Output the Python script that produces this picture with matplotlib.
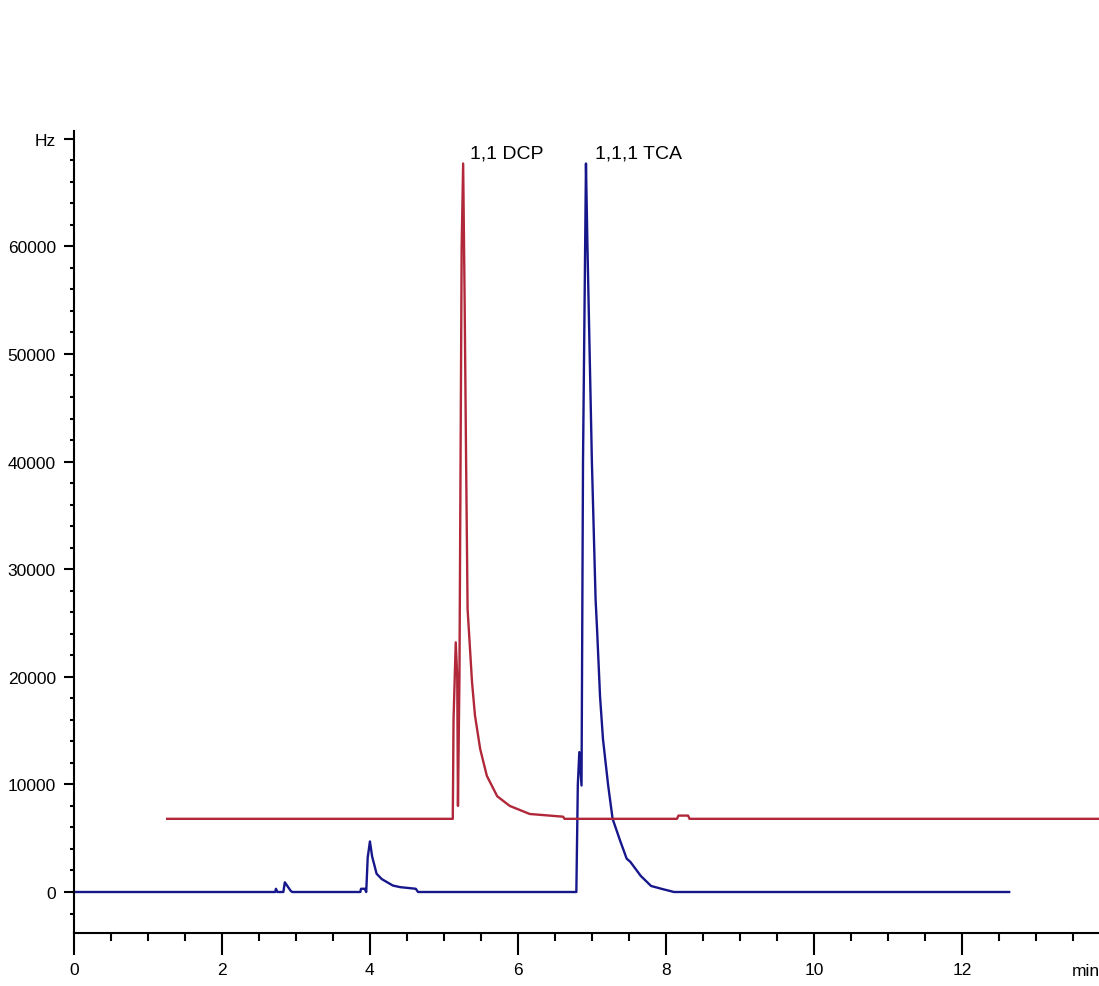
import matplotlib
matplotlib.use('Agg')
import matplotlib.pyplot as plt
from matplotlib.ticker import MultipleLocator, FixedLocator

plt.rcParams['font.family'] = ['Liberation Sans', 'DejaVu Sans']

# retention time (min) and detector signal (Hz)
red_t = [1.26, 5.12, 5.13, 5.16, 5.18, 5.19, 5.21, 5.24, 5.26, 5.28, 5.30,
         5.32, 5.38, 5.42, 5.49, 5.58, 5.72, 5.89, 6.16, 6.61, 6.63,
         8.15, 8.17, 8.30, 8.32, 14.5]
red_y = [6800, 6800, 16000, 23200, 20000, 8000, 20000, 60000, 67700, 55000, 40000,
         26300, 19500, 16400, 13300, 10800, 8900, 8000, 7250, 7000, 6800,
         6800, 7100, 7100, 6800, 6800]

blue_t = [0.0, 2.72, 2.73, 2.75, 2.83, 2.85, 2.88, 2.93, 2.95, 3.87, 3.88,
          3.93, 3.95, 3.97, 4.00, 4.03, 4.09, 4.16, 4.31, 4.41, 4.62, 4.65,
          6.79, 6.81, 6.83, 6.86, 6.88, 6.92, 6.94, 6.97, 7.00, 7.05, 7.07,
          7.11, 7.15, 7.22, 7.28, 7.38, 7.47, 7.52, 7.66, 7.80, 7.95, 8.11, 12.64]
blue_y = [0, 0, 300, 0, 0, 900, 600, 100, 0, 0, 300,
          300, 0, 3200, 4700, 3300, 1700, 1200, 600, 450, 300, 0,
          0, 10000, 13000, 9900, 40000, 67700, 60000, 50000, 40000, 27200, 24400,
          18200, 14200, 9900, 6800, 4800, 3100, 2800, 1500, 560, 280, 0, 0]

peak_names = ['1,1 DCP', '1,1,1 TCA']
peak_label_t = [5.35, 7.04]

x_ticks = [0, 2, 4, 6, 8, 10, 12]
y_ticks = [0, 10000, 20000, 30000, 40000, 50000, 60000, 70000]
y_labels = ['0', '10000', '20000', '30000', '40000', '50000', '60000', 'Hz']

fig = plt.figure(figsize=(10.99, 9.87), dpi=100)
ax = fig.add_axes([0.0673, 0.0537, 0.956, 0.8126])

ax.plot(blue_t, blue_y, color='#17178c', lw=1.7)
ax.plot(red_t, red_y, color='#b0283a', lw=1.7)

ax.set_xlim(0, 14.2)
ax.set_ylim(-3810, 70725)

for s in ['top', 'right']:
    ax.spines[s].set_visible(False)
for s in ['left', 'bottom']:
    ax.spines[s].set_linewidth(1.5)

ax.xaxis.set_major_locator(FixedLocator(x_ticks))
ax.xaxis.set_minor_locator(MultipleLocator(0.5))
ax.yaxis.set_major_locator(FixedLocator(y_ticks))
ax.set_yticklabels(y_labels)
ax.yaxis.set_minor_locator(MultipleLocator(2000))

ax.tick_params(axis='x', which='major', length=16, width=1.5, pad=5, labelsize=12.5)
ax.tick_params(axis='x', which='minor', length=6, width=1.5)
ax.tick_params(axis='y', which='major', length=7, width=1.5, pad=6, labelsize=12.5)
ax.tick_params(axis='y', which='minor', length=3, width=1.5)

for name, t in zip(peak_names, peak_label_t):
    ax.text(t, 68300, name, fontsize=14, ha='left', va='baseline')

ax.text(13.49, -0.047, 'min', transform=ax.get_xaxis_transform(),
        fontsize=12.5, ha='left', va='center', clip_on=False)

fig.savefig('out.png', dpi=100)
